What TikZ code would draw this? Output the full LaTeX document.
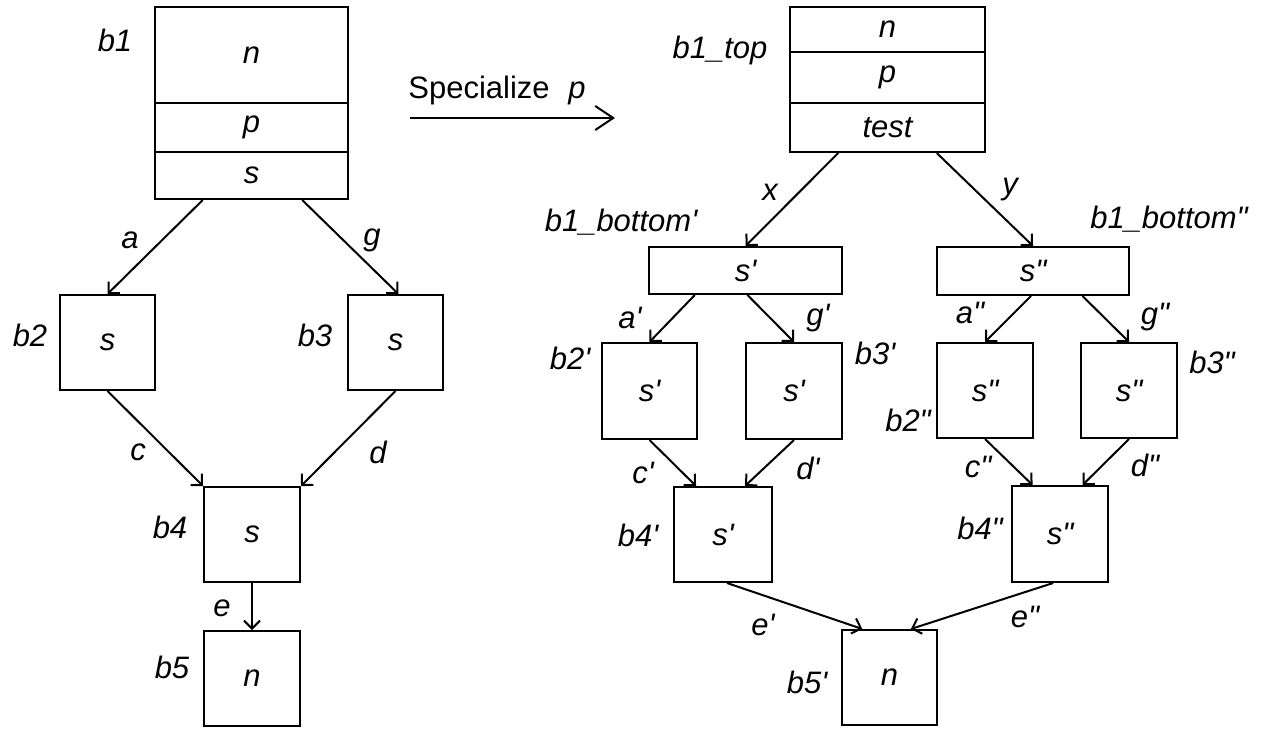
\documentclass[tikz,border=0pt]{standalone}
\usepackage{fontspec}
\newfontfamily\lab{Liberation Sans}
\usetikzlibrary{arrows.meta,calc}
\begin{document}
\begin{tikzpicture}[x=0.5pt,y=-0.5pt,
  font=\lab\fontsize{15.5}{18}\selectfont,
  blk/.style={draw,line width=1pt,inner sep=0pt,minimum width=47.5pt,minimum height=47.5pt,font=\lab\itshape\fontsize{15.5}{18}\selectfont},
  lbl/.style={inner sep=0pt,font=\lab\itshape\fontsize{15.5}{18}\selectfont},
  edge/.style={line width=1pt,-{Straight Barb[length=4pt,width=8pt]}},
  bigarrow/.style={line width=1pt,-{Straight Barb[length=9pt,width=12pt]}}]
\useasboundingbox (0,0) rectangle (1268,729);
% ---------- left graph ----------
\node[blk,minimum width=96.5pt,minimum height=48pt] (b1n) at (251.5,55) {n};
\node[blk,minimum width=96.5pt,minimum height=24.5pt] (b1p) at (251.5,127.5) {p};
\node[blk,minimum width=96.5pt,minimum height=23.5pt] (b1s) at (251.5,175.5) {s};
\node[blk] (b2) at (107.5,342.5) {s};
\node[blk] (b3) at (395.5,342.5) {s};
\node[blk,minimum width=48pt] (b4) at (252,534.5) {s};
\node[blk,minimum width=48pt] (b5) at (252,678.5) {n};
\node[lbl] (lb1) at (115,40) {b1};
\node[lbl] (lb2) at (30,335) {b2};
\node[lbl] (lb3) at (315,335) {b3};
\node[lbl] (lb4) at (170,527) {b4};
\node[lbl] (lb5) at (172,667) {b5};
\node[lbl] (la) at (130,240) {a};
\node[lbl] (lg) at (372,240) {g};
\node[lbl] (lc) at (138,452) {c};
\node[lbl] (ld) at (378,452) {d};
\node[lbl] (le) at (222,608) {e};
\draw[edge] ($(b1s.south west)!0.25!(b1s.south east)$) -- (b2.north);
\draw[edge] ($(b1s.south west)!0.76!(b1s.south east)$) -- ($(b3.north west)!0.53!(b3.north east)$);
\draw[edge] (b2.south) -- (b4.north west);
\draw[edge] (b3.south) -- (b4.north east);
\draw[edge] (b4.south) -- (b5.north);
% ---------- specialize arrow ----------
\node[anchor=west,inner sep=0pt] (spec) at (408,90) {Specialize\hspace{0.6em}\textit{p}};
\coordinate (sp1) at (410,118);
\coordinate (sp2) at (615,118);
\draw[bigarrow] (sp1) -- (sp2);
% ---------- right graph ----------
\node[blk,minimum width=97.5pt,minimum height=22.5pt] (tn) at (887.5,29.5) {n};
\node[blk,minimum width=97.5pt,minimum height=25.5pt] (tp) at (887.5,77.5) {p};
\node[blk,minimum width=97.5pt,minimum height=24.5pt] (tt) at (887.5,127.5) {test};
\node[blk,minimum width=96.5pt,minimum height=23.5pt] (bb1) at (745.5,270.5) {s'};
\node[blk,minimum width=96pt,minimum height=24pt] (bb2) at (1033,271) {s"};
\node[blk,minimum height=48pt] (b2p) at (649.5,391) {s'};
\node[blk,minimum width=48pt,minimum height=48pt] (b3p) at (794,391) {s'};
\node[blk,minimum width=49pt] (b4p) at (723,534.5) {s'};
\node[blk,minimum width=48pt] (b2pp) at (985,390.5) {s"};
\node[blk,minimum width=48pt] (b3pp) at (1129,390.5) {s"};
\node[blk,minimum width=48pt,minimum height=48pt] (b4pp) at (1060,534) {s"};
\node[blk] (b5p) at (889.5,677.5) {n};
\node[lbl] (ltop) at (720,50) {b1\_top};
\node[lbl] (lx) at (770,192) {x};
\node[lbl] (ly) at (1010,190) {y};
\node[lbl] (lbb1) at (621,222) {b1\_bottom'};
\node[lbl] (lbb2) at (1169,219) {b1\_bottom"};
\node[lbl] (lap) at (630,318) {a'};
\node[lbl] (lgp) at (818,318) {g'};
\node[lbl] (lb2p) at (570,358) {b2'};
\node[lbl] (lb3p) at (875,353) {b3'};
\node[lbl] (lcp) at (643,473) {c'};
\node[lbl] (ldp) at (808,468) {d'};
\node[lbl] (lb4p) at (638,535) {b4'};
\node[lbl] (lapp) at (970,313) {a"};
\node[lbl] (lgpp) at (1155,317) {g"};
\node[lbl] (lb2pp) at (908,420) {b2"};
\node[lbl] (lb3pp) at (1212,362) {b3"};
\node[lbl] (lcpp) at (978,467) {c"};
\node[lbl] (ldpp) at (1145,465) {d"};
\node[lbl] (lb4pp) at (980,528) {b4"};
\node[lbl] (lep) at (763,625) {e'};
\node[lbl] (lepp) at (1025,617) {e"};
\node[lbl] (lb5p) at (807,682) {b5'};
\draw[edge] ($(tt.south west)!0.25!(tt.south east)$) -- (bb1.north);
\draw[edge] ($(tt.south west)!0.75!(tt.south east)$) -- (bb2.north);
\draw[edge] ($(bb1.south west)!0.24!(bb1.south east)$) -- (b2p.north);
\draw[edge] ($(bb1.south west)!0.51!(bb1.south east)$) -- (b3p.north);
\draw[edge] ($(bb2.south west)!0.49!(bb2.south east)$) -- (b2pp.north);
\draw[edge] ($(bb2.south west)!0.755!(bb2.south east)$) -- (b3pp.north);
\draw[edge] (b2p.south) -- ($(b4p.north west)!0.23!(b4p.north east)$);
\draw[edge] (b3p.south) -- ($(b4p.north west)!0.72!(b4p.north east)$);
\draw[edge] (b2pp.south) -- ($(b4pp.north west)!0.22!(b4pp.north east)$);
\draw[edge] (b3pp.south) -- ($(b4pp.north west)!0.73!(b4pp.north east)$);
\draw[edge] ($(b4p.south west)!0.54!(b4p.south east)$) -- ($(b5p.north west)!0.22!(b5p.north east)$);
\draw[edge] ($(b4pp.south west)!0.43!(b4pp.south east)$) -- ($(b5p.north west)!0.72!(b5p.north east)$);
\end{tikzpicture}
\end{document}
